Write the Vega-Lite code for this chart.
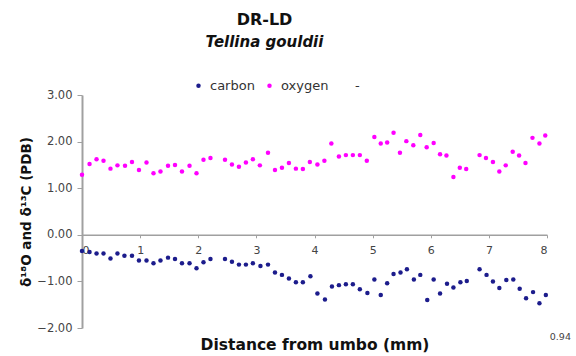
{
  "$schema": "https://vega.github.io/schema/vega-lite/v6.json",
  "width": 465,
  "height": 233,
  "autosize": {"type": "none"},
  "padding": {"left": 82, "top": 95, "right": 29, "bottom": 28},
  "background": "white",
  "title": {
    "text": "DR-LD",
    "subtitle": "Tellina gouldii",
    "anchor": "middle",
    "dx": -50,
    "offset": 29,
    "font": "DejaVu Sans",
    "fontSize": 16,
    "fontWeight": "bold",
    "color": "#111111",
    "subtitleFont": "DejaVu Sans",
    "subtitleFontSize": 15,
    "subtitleFontWeight": "bold",
    "subtitleFontStyle": "italic",
    "subtitleColor": "#111111",
    "subtitlePadding": 7
  },
  "data": {
    "values": [
      {"x": 0.00, "value": 1.29, "isotope": "oxygen"},
      {"x": 0.13, "value": 1.52, "isotope": "oxygen"},
      {"x": 0.25, "value": 1.62, "isotope": "oxygen"},
      {"x": 0.37, "value": 1.59, "isotope": "oxygen"},
      {"x": 0.49, "value": 1.42, "isotope": "oxygen"},
      {"x": 0.61, "value": 1.49, "isotope": "oxygen"},
      {"x": 0.74, "value": 1.48, "isotope": "oxygen"},
      {"x": 0.86, "value": 1.56, "isotope": "oxygen"},
      {"x": 0.98, "value": 1.39, "isotope": "oxygen"},
      {"x": 1.11, "value": 1.55, "isotope": "oxygen"},
      {"x": 1.23, "value": 1.32, "isotope": "oxygen"},
      {"x": 1.35, "value": 1.36, "isotope": "oxygen"},
      {"x": 1.48, "value": 1.48, "isotope": "oxygen"},
      {"x": 1.60, "value": 1.50, "isotope": "oxygen"},
      {"x": 1.72, "value": 1.36, "isotope": "oxygen"},
      {"x": 1.85, "value": 1.48, "isotope": "oxygen"},
      {"x": 1.97, "value": 1.32, "isotope": "oxygen"},
      {"x": 2.09, "value": 1.61, "isotope": "oxygen"},
      {"x": 2.21, "value": 1.65, "isotope": "oxygen"},
      {"x": 2.46, "value": 1.61, "isotope": "oxygen"},
      {"x": 2.58, "value": 1.51, "isotope": "oxygen"},
      {"x": 2.70, "value": 1.46, "isotope": "oxygen"},
      {"x": 2.82, "value": 1.55, "isotope": "oxygen"},
      {"x": 2.94, "value": 1.62, "isotope": "oxygen"},
      {"x": 3.06, "value": 1.49, "isotope": "oxygen"},
      {"x": 3.20, "value": 1.76, "isotope": "oxygen"},
      {"x": 3.32, "value": 1.39, "isotope": "oxygen"},
      {"x": 3.44, "value": 1.44, "isotope": "oxygen"},
      {"x": 3.56, "value": 1.54, "isotope": "oxygen"},
      {"x": 3.68, "value": 1.42, "isotope": "oxygen"},
      {"x": 3.80, "value": 1.41, "isotope": "oxygen"},
      {"x": 3.92, "value": 1.56, "isotope": "oxygen"},
      {"x": 4.05, "value": 1.51, "isotope": "oxygen"},
      {"x": 4.17, "value": 1.59, "isotope": "oxygen"},
      {"x": 4.29, "value": 1.96, "isotope": "oxygen"},
      {"x": 4.42, "value": 1.68, "isotope": "oxygen"},
      {"x": 4.54, "value": 1.71, "isotope": "oxygen"},
      {"x": 4.66, "value": 1.71, "isotope": "oxygen"},
      {"x": 4.78, "value": 1.71, "isotope": "oxygen"},
      {"x": 4.90, "value": 1.59, "isotope": "oxygen"},
      {"x": 5.03, "value": 2.10, "isotope": "oxygen"},
      {"x": 5.14, "value": 1.96, "isotope": "oxygen"},
      {"x": 5.25, "value": 1.98, "isotope": "oxygen"},
      {"x": 5.36, "value": 2.19, "isotope": "oxygen"},
      {"x": 5.47, "value": 1.76, "isotope": "oxygen"},
      {"x": 5.58, "value": 2.01, "isotope": "oxygen"},
      {"x": 5.70, "value": 1.92, "isotope": "oxygen"},
      {"x": 5.82, "value": 2.14, "isotope": "oxygen"},
      {"x": 5.93, "value": 1.88, "isotope": "oxygen"},
      {"x": 6.05, "value": 1.97, "isotope": "oxygen"},
      {"x": 6.16, "value": 1.73, "isotope": "oxygen"},
      {"x": 6.27, "value": 1.70, "isotope": "oxygen"},
      {"x": 6.39, "value": 1.24, "isotope": "oxygen"},
      {"x": 6.50, "value": 1.44, "isotope": "oxygen"},
      {"x": 6.61, "value": 1.41, "isotope": "oxygen"},
      {"x": 6.84, "value": 1.71, "isotope": "oxygen"},
      {"x": 6.95, "value": 1.65, "isotope": "oxygen"},
      {"x": 7.07, "value": 1.56, "isotope": "oxygen"},
      {"x": 7.18, "value": 1.36, "isotope": "oxygen"},
      {"x": 7.29, "value": 1.49, "isotope": "oxygen"},
      {"x": 7.41, "value": 1.78, "isotope": "oxygen"},
      {"x": 7.52, "value": 1.70, "isotope": "oxygen"},
      {"x": 7.63, "value": 1.54, "isotope": "oxygen"},
      {"x": 7.75, "value": 2.08, "isotope": "oxygen"},
      {"x": 7.87, "value": 1.96, "isotope": "oxygen"},
      {"x": 7.97, "value": 2.13, "isotope": "oxygen"},
      {"x": 0.00, "value": -0.35, "isotope": "carbon"},
      {"x": 0.13, "value": -0.37, "isotope": "carbon"},
      {"x": 0.25, "value": -0.40, "isotope": "carbon"},
      {"x": 0.37, "value": -0.40, "isotope": "carbon"},
      {"x": 0.49, "value": -0.51, "isotope": "carbon"},
      {"x": 0.61, "value": -0.40, "isotope": "carbon"},
      {"x": 0.73, "value": -0.45, "isotope": "carbon"},
      {"x": 0.86, "value": -0.45, "isotope": "carbon"},
      {"x": 0.98, "value": -0.55, "isotope": "carbon"},
      {"x": 1.11, "value": -0.55, "isotope": "carbon"},
      {"x": 1.23, "value": -0.61, "isotope": "carbon"},
      {"x": 1.35, "value": -0.55, "isotope": "carbon"},
      {"x": 1.48, "value": -0.49, "isotope": "carbon"},
      {"x": 1.60, "value": -0.52, "isotope": "carbon"},
      {"x": 1.72, "value": -0.61, "isotope": "carbon"},
      {"x": 1.85, "value": -0.61, "isotope": "carbon"},
      {"x": 1.97, "value": -0.72, "isotope": "carbon"},
      {"x": 2.09, "value": -0.59, "isotope": "carbon"},
      {"x": 2.21, "value": -0.52, "isotope": "carbon"},
      {"x": 2.46, "value": -0.52, "isotope": "carbon"},
      {"x": 2.58, "value": -0.58, "isotope": "carbon"},
      {"x": 2.70, "value": -0.64, "isotope": "carbon"},
      {"x": 2.82, "value": -0.64, "isotope": "carbon"},
      {"x": 2.94, "value": -0.61, "isotope": "carbon"},
      {"x": 3.07, "value": -0.67, "isotope": "carbon"},
      {"x": 3.20, "value": -0.64, "isotope": "carbon"},
      {"x": 3.32, "value": -0.81, "isotope": "carbon"},
      {"x": 3.44, "value": -0.86, "isotope": "carbon"},
      {"x": 3.56, "value": -0.94, "isotope": "carbon"},
      {"x": 3.68, "value": -1.02, "isotope": "carbon"},
      {"x": 3.80, "value": -1.02, "isotope": "carbon"},
      {"x": 3.93, "value": -0.89, "isotope": "carbon"},
      {"x": 4.05, "value": -1.26, "isotope": "carbon"},
      {"x": 4.18, "value": -1.39, "isotope": "carbon"},
      {"x": 4.30, "value": -1.11, "isotope": "carbon"},
      {"x": 4.42, "value": -1.08, "isotope": "carbon"},
      {"x": 4.54, "value": -1.06, "isotope": "carbon"},
      {"x": 4.66, "value": -1.06, "isotope": "carbon"},
      {"x": 4.78, "value": -1.17, "isotope": "carbon"},
      {"x": 4.91, "value": -1.25, "isotope": "carbon"},
      {"x": 5.03, "value": -0.96, "isotope": "carbon"},
      {"x": 5.14, "value": -1.29, "isotope": "carbon"},
      {"x": 5.25, "value": -1.04, "isotope": "carbon"},
      {"x": 5.36, "value": -0.84, "isotope": "carbon"},
      {"x": 5.48, "value": -0.81, "isotope": "carbon"},
      {"x": 5.59, "value": -0.74, "isotope": "carbon"},
      {"x": 5.71, "value": -0.96, "isotope": "carbon"},
      {"x": 5.82, "value": -0.86, "isotope": "carbon"},
      {"x": 5.94, "value": -1.40, "isotope": "carbon"},
      {"x": 6.05, "value": -0.96, "isotope": "carbon"},
      {"x": 6.16, "value": -1.26, "isotope": "carbon"},
      {"x": 6.28, "value": -1.05, "isotope": "carbon"},
      {"x": 6.39, "value": -1.13, "isotope": "carbon"},
      {"x": 6.51, "value": -1.02, "isotope": "carbon"},
      {"x": 6.62, "value": -0.99, "isotope": "carbon"},
      {"x": 6.84, "value": -0.74, "isotope": "carbon"},
      {"x": 6.96, "value": -0.86, "isotope": "carbon"},
      {"x": 7.07, "value": -1.00, "isotope": "carbon"},
      {"x": 7.18, "value": -1.14, "isotope": "carbon"},
      {"x": 7.30, "value": -0.97, "isotope": "carbon"},
      {"x": 7.42, "value": -0.96, "isotope": "carbon"},
      {"x": 7.53, "value": -1.16, "isotope": "carbon"},
      {"x": 7.64, "value": -1.36, "isotope": "carbon"},
      {"x": 7.76, "value": -1.23, "isotope": "carbon"},
      {"x": 7.87, "value": -1.47, "isotope": "carbon"},
      {"x": 7.98, "value": -1.29, "isotope": "carbon"}
    ]
  },
  "layer": [
    {
      "mark": {"type": "point", "filled": true, "shape": "circle", "size": 20, "opacity": 1, "clip": false},
      "encoding": {
        "x": {
          "field": "x",
          "type": "quantitative",
          "scale": {"domain": [0, 8], "nice": false, "zero": false},
          "axis": {
            "title": "Distance from umbo (mm)",
            "values": [0, 1, 2, 3, 4, 5, 6, 7, 8],
            "format": "d",
            "offset": -93.2,
            "grid": false,
            "domainColor": "#a0a0a0",
            "domainWidth": 1.5,
            "tickColor": "#a0a0a0",
            "tickSize": 3,
            "labelFont": "DejaVu Sans",
            "labelFontSize": 11,
            "labelColor": "#444444",
            "labelPadding": 7,
            "titleFont": "DejaVu Sans",
            "titleFontSize": 15.5,
            "titleFontWeight": "bold",
            "titleColor": "#111111",
            "titleY": 110,
            "titleBaseline": "middle"
          }
        },
        "y": {
          "field": "value",
          "type": "quantitative",
          "scale": {"domain": [-2, 3], "nice": false, "zero": false},
          "axis": {
            "title": "δ¹⁸O and δ¹³C (PDB)",
            "values": [-2, -1, 0, 1, 2, 3],
            "format": ".2f",
            "grid": false,
            "domainColor": "#a0a0a0",
            "domainWidth": 2,
            "tickColor": "#a0a0a0",
            "tickSize": 5,
            "labelFont": "DejaVu Sans",
            "labelFontSize": 11.5,
            "labelColor": "#444444",
            "labelPadding": 5,
            "titleFont": "DejaVu Sans",
            "titleFontSize": 13.5,
            "titleFontWeight": "bold",
            "titleColor": "#111111",
            "titleAngle": -90,
            "titleX": -56,
            "titleY": 116.5,
            "titleBaseline": "middle",
            "titleAlign": "center"
          }
        },
        "color": {
          "field": "isotope",
          "type": "nominal",
          "scale": {"domain": ["carbon", "oxygen", "-"], "range": ["#1c1c8c", "#ff00ff", "rgba(0,0,0,0)"]},
          "legend": {
            "title": null,
            "orient": "none",
            "direction": "horizontal",
            "legendX": 110,
            "legendY": -16,
            "symbolType": "circle",
            "symbolSize": 20,
            "labelFont": "DejaVu Sans",
            "labelFontSize": 13,
            "labelColor": "#333333",
            "labelOffset": 5,
            "columnPadding": 8
          }
        }
      }
    },
    {
      "data": {"values": [{"label": "0.94"}]},
      "mark": {"type": "text", "font": "DejaVu Sans", "fontSize": 9.5, "color": "#444444", "clip": false},
      "encoding": {
        "text": {"field": "label", "type": "nominal"},
        "x": {"datum": 8.23, "type": "quantitative"},
        "y": {"datum": -2.19, "type": "quantitative"}
      }
    }
  ],
  "config": {
    "view": {"stroke": null},
    "font": "DejaVu Sans"
  }
}
